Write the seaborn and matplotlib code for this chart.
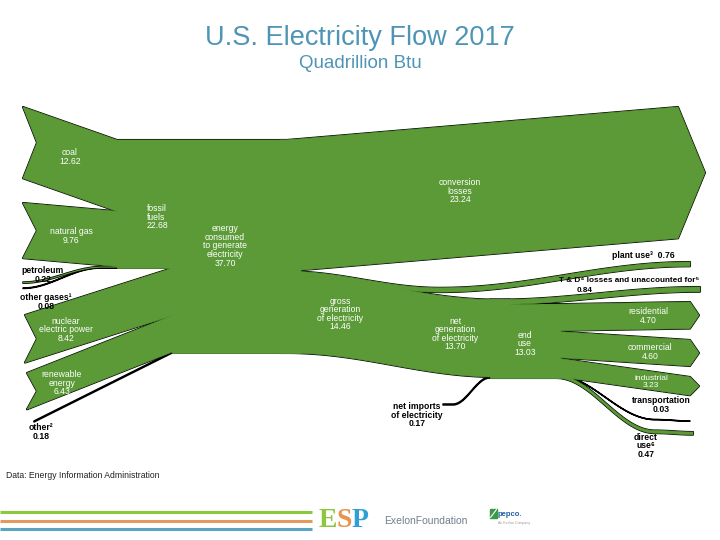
import numpy as np
import matplotlib
matplotlib.use("Agg")
import matplotlib.pyplot as plt
import seaborn as sns

# U.S. electricity flow 2017, quadrillion Btu
source_names = ["coal", "natural gas", "petroleum", "other gases¹",
                "nuclear\nelectric power", "renewable\nenergy", "other²"]
source_values = [12.62, 9.76, 0.22, 0.08, 8.42, 6.43, 0.18]
fossil_fuels = 22.68
energy_consumed = 37.70
conversion_losses = 23.24
gross_generation = 14.46
plant_use = 0.76
net_generation = 13.70
net_imports = 0.17
td_losses = 0.84
end_use = 13.03
end_use_names = ["residential", "commercial", "industrial", "transportation", "direct\nuse⁶"]
end_use_values = [4.70, 4.60, 3.23, 0.03, 0.47]

# layout (pixel space of the slide)
K = 5.65          # px per quadrillion Btu
GREEN = "#5b9a37"
TITLE_BLUE = "#4e95b5"
TRUNK_TOP = 140
SPLIT_X = 287
src_x0 = [23, 23, 23, 23, 25, 27, 34]
src_y0 = [107, 203, 282, 288, 315, 373, 421]
src_join = [117, 117, 103, 100, 172, 172, 172]
src_tail = [14, 14, 0, 0, 12, 10, 0]
src_curved = [False, False, True, True, False, False, False]
src_label_xy = [(70, 157), (71, 236), (43, 275), (46, 302), (66, 330), (62, 383), (41, 432)]
end_split = 548
end_x1 = [690, 690, 690, 690, 693]
end_y1 = [302, 340, 377, 421, 432]
end_head = [9, 9, 9, 0, 0]
end_curved = [False, False, False, True, True]
end_label_xy = [(648, 316), (650, 352), (651, 382), (661, 405), (646, 446)]

sns.set_theme(style="white")
plt.rcParams["font.family"] = ["Liberation Sans", "DejaVu Sans"]

fig = plt.figure(figsize=(7.2, 5.4), dpi=100)
ax = fig.add_axes([0, 0, 1, 1])
ax.set_xlim(0, 720)
ax.set_ylim(540, 0)
ax.axis("off")

shapes = []


def band(xs, tops, value, smooth=True, head=0, tail=0, n=60):
    w = value * K
    px, py = [], []
    for i in range(len(xs) - 1):
        t = np.linspace(0, 1, n)
        s = (1 - np.cos(np.pi * t)) / 2 if smooth else t
        px.extend(xs[i] + (xs[i + 1] - xs[i]) * t)
        py.extend(tops[i] + (tops[i + 1] - tops[i]) * s)
    px, py = np.array(px), np.array(py)
    X, Y = list(px), list(py)
    if head:
        X.append(px[-1] + head)
        Y.append(py[-1] + w / 2)
    X += list(px[::-1])
    Y += list(py[::-1] + w)
    if tail:
        X.append(px[0] + tail)
        Y.append(py[0] + w / 2)
    shapes.append((X, Y, w))
    return w


# sources into the trunk
stack = TRUNK_TOP
for v, x0, y0, xj, tl, cv in zip(source_values, src_x0, src_y0, src_join, src_tail, src_curved):
    band([x0, xj, 300], [y0, stack, stack], v, smooth=cv, tail=tl)
    stack += v * K

# conversion losses arrow
band([280, SPLIT_X, 678], [TRUNK_TOP, TRUNK_TOP, 107], conversion_losses, smooth=False, head=27)

# gross generation -> plant use + net generation
g_top = TRUNK_TOP + conversion_losses * K
band([280, SPLIT_X, 440, 690], [g_top, g_top, g_top + 16.5, 262], plant_use)
n_top = g_top + plant_use * K
n_drop = n_top + 24
band([280, SPLIT_X, 497, 510], [n_top, n_top, n_drop, n_drop], net_generation)
imp_y = n_drop + net_generation * K
band([443, 453, 490, 512], [404, 404, imp_y, imp_y], net_imports)

# T&D losses and end use
band([490, 497, 700], [n_drop, n_drop, 287], td_losses)
e_top = n_drop + td_losses * K
band([490, 560], [e_top, e_top], end_use)

stack = e_top
for v, x1, y1, hd, cv in zip(end_use_values, end_x1, end_y1, end_head, end_curved):
    if cv:
        xs, tops = [540, 556, 655, x1], [stack, stack, y1 - 1.5, y1]
    else:
        xs, tops = [540, end_split, x1], [stack, stack, y1]
    band(xs, tops, v, smooth=cv, head=hd)
    stack += v * K

for X, Y, w in shapes:
    ax.fill(X, Y, fc="none", ec="black", lw=1.5 if w > 2 else 1.1,
            joinstyle="round", zorder=1)
for X, Y, w in shapes:
    if w > 2:
        ax.fill(X, Y, fc=GREEN, ec=GREEN, lw=0.5, zorder=2)
    elif w > 1.2:
        ax.fill(X, Y, fc=GREEN, ec="none", zorder=2)

# node blocks: fossil fuels and energy consumed hide the seams of merged flows
for x0, h in [(117, fossil_fuels * K), (172, energy_consumed * K)]:
    ax.fill([x0, 300, 300, x0], [TRUNK_TOP, TRUNK_TOP, TRUNK_TOP + h, TRUNK_TOP + h],
            fc=GREEN, ec=GREEN, lw=0.5, zorder=3)


def label(x, y, s, dark=False, ha="center", size=6.2):
    ax.text(x, y, s, ha=ha, va="center", fontsize=size, linespacing=0.95,
            color="black" if dark else "white", fontweight="bold" if dark else "normal",
            zorder=5)


for name, v, (x, y) in zip(source_names, source_values, src_label_xy):
    label(x, y, f"{name}\n{v:.2f}", dark=v < 1)
label(147, 217, f"fossil\nfuels\n{fossil_fuels:.2f}", ha="left")
label(225, 246, f"energy\nconsumed\nto generate\nelectricity\n{energy_consumed:.2f}")
label(460, 191, f"conversion\nlosses\n{conversion_losses:.2f}")
label(340, 314, f"gross\ngeneration\nof electricity\n{gross_generation:.2f}")
label(455, 334, f"net\ngeneration\nof electricity\n{net_generation:.2f}")
label(525, 344, f"end\nuse\n{end_use:.2f}")
label(417, 415, f"net imports\nof electricity\n{net_imports:.2f}", dark=True)
label(643, 256, f"plant use³  {plant_use:.2f}", dark=True)
label(629, 280.5, "T & D⁴ losses and unaccounted for⁵", dark=True, size=5.9)
label(585, 290, f"{td_losses:.2f}", dark=True, size=5.9)
for name, v, (x, y) in zip(end_use_names, end_use_values, end_label_xy):
    label(x, y, f"{name}\n{v:.2f}", dark=v < 1, size=6.0 if name == "industrial" else 6.2)

# titles
ax.text(360, 38, "U.S. Electricity Flow 2017", ha="center", va="center",
        fontsize=19.5, color=TITLE_BLUE)
ax.text(360, 64, "Quadrillion Btu", ha="center", va="center",
        fontsize=13.5, color=TITLE_BLUE)
ax.text(6, 476, "Data: Energy Information Administration", ha="left", va="center",
        fontsize=6.2, color="#222222")

# footer stripes and logos
for y, c in zip([512, 521, 529], ["#8dc63f", "#e39a5b", "#5aa3c1"]):
    ax.plot([0, 312], [y, y], color=c, lw=2.2, solid_capstyle="butt")
for ch, x, c in zip("ESP", [319, 336, 352], ["#8dc63f", "#e8944a", "#2f9fd8"]):
    ax.text(x, 527, ch, ha="left", va="baseline", fontsize=20, fontweight="bold",
            family="Liberation Serif", color=c)
ax.text(384, 521, "ExelonFoundation", ha="left", va="center", fontsize=7.5, color="#6f7f8f")
ax.add_patch(plt.Rectangle((490, 509), 7, 9, color="#3b9a4a"))
ax.plot([490.5, 496.5], [517.5, 509.5], color="white", lw=0.8)
ax.text(498, 514, "pepco.", ha="left", va="center", fontsize=5.5, fontweight="bold",
        color="#1f5fa0")
ax.text(498, 523, "An Exelon Company", ha="left", va="center", fontsize=2.5, color="#999999")

fig.savefig("out.png", dpi=100)
